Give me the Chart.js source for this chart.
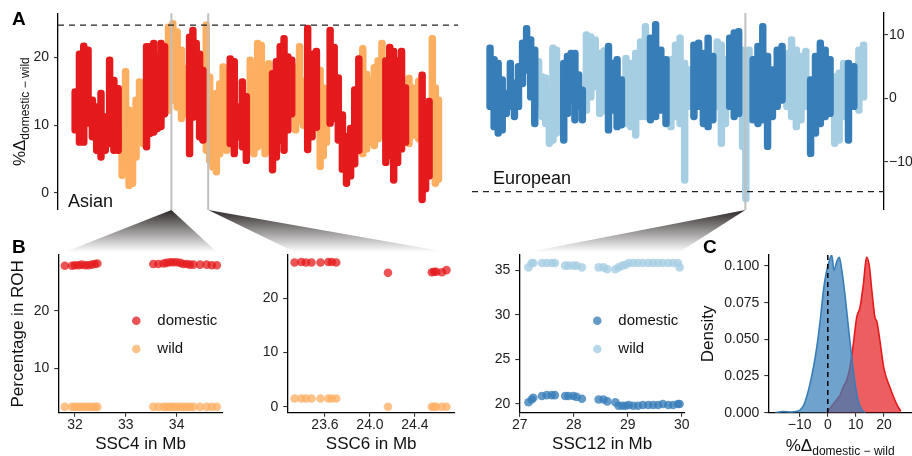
<!DOCTYPE html>
<html>
<head>
<meta charset="utf-8">
<script src="https://cdn.jsdelivr.net/npm/chart.js@4.4.1/dist/chart.umd.min.js"></script>
<style>
  html, body { margin: 0; padding: 0; background: #fff; }
  #wrap { position: relative; width: 912px; height: 456px; overflow: hidden; background: #fff; }
  #wrap canvas { position: absolute; left: 0; top: 0; }
</style>
</head>
<body>
<div id="wrap">
  <canvas id="bg" width="912" height="456"></canvas>
  <canvas id="asian" width="912" height="456"></canvas>
  <canvas id="european" width="912" height="456"></canvas>
  <canvas id="ssc4" width="912" height="456"></canvas>
  <canvas id="ssc6" width="912" height="456"></canvas>
  <canvas id="ssc12" width="912" height="456"></canvas>
  <canvas id="density" width="912" height="456"></canvas>
</div>
<script>
// chromosome lengths in Mb, SSC1..SSC18
const chromLengths = [315, 162, 144, 143, 111, 157, 134, 148, 153, 79, 87, 63, 218, 153, 157, 86, 69, 61];

// panel A: %Δ domestic - wild, [low, high] spread of the windows in each bin, per chromosome
const asianRanges = [
  [[8.8,15.4],[7,21],[7,22.2],[9.8,21.6],[7.8,14.2],[5.8,13.2],[4.8,15.2],[5.8,11.7],[6.8,20.1],[5.8,17.1],[5.8,15.9]],
  [[2.1,9.8],[3.8,18.4],[0.6,12.7],[0.9,12.2],[4.8,14.2],[7.3,16.9],[6.8,16.2]],
  [[6.3,22.1],[8.3,22.1],[8.5,22.6],[9.0,20.6],[9.3,22.6],[11.2,22.1]],
  [[11.7,25],[13.2,25.5],[12.2,24.3],[10.5,21.6],[11.2,18.9]],
  [[5.3,23.5],[10.7,24.5],[12.2,22.6],[7.8,21],[7.3,18.6]],
  [[5.8,25.3],[4.3,17.6],[3.3,13.7],[2.6,15.2],[5.3,16.6],[6.3,19.1],[5.8,18.1]],
  [[6.8,20.3],[5.3,19.9],[7.8,13.2],[6.3,16.9],[4.3,14.7]],
  [[5.8,20.1],[5.3,18.1],[6.3,22.6],[6.8,22.3],[5.3,17.9],[5.8,19.6]],
  [[2.9,18.1],[4.8,19.9],[7.3,22.1],[5.8,23.3],[8.8,20.6],[11.2,20.1]],
  [[8.8,19.1],[10.2,22.1],[9.5,17]],
  [[5.9,24.8],[7.8,21],[9.2,21.4]],
  [[3.4,18.6],[5,16],[7,14.5]],
  [[9.8,24.5],[10.5,22],[7.3,17.5],[3,12],[0.9,8.8],[2,10],[3.8,15.7],[5.8,20.3]],
  [[5.3,21.8],[6,18],[7,17],[6.5,19],[7.5,20],[8,22.6]],
  [[4,20],[5,22],[1.4,21.4],[4,20],[6,21.4],[7,16]],
  [[6.8,17.4],[8,16],[9,15.5],[7.5,17]],
  [[-1.5,17.9],[0.1,13],[2,14]],
  [[3,23.3],[0.9,16],[1.5,14.2]]
];
const europeanRanges = [
  [[-1.8,8.4],[-5,6.6],[-6,6.0],[-5.5,3.4],[-2.9,1.3],[-1.8,6.0],[-3.4,2.9],[-1.8,5.5],[1.8,9.2],[3.9,11.5],[-0.3,9.7],[-4.5,8.1]],
  [[-1.8,6.3],[-3.4,3.9],[-4.5,3.7],[-7.6,1.8],[-7.1,8.4],[-6.0,8.1],[-3.9,3.4]],
  [[-7.1,6.0],[-2.9,7.1],[-0.8,7.6],[-3.9,7.6],[-1.8,4.2],[-3.9,1.8]],
  [[-2.4,10.5],[-0.3,10.2],[1.3,9.7],[-2.9,7.6],[-2.5,8]],
  [[-5.5,8.7],[-2.4,6.0],[-5,6.6],[-4.7,3.4]],
  [[-4.5,6.8],[-5,6.0],[-6.3,7.6],[-3.4,9.4],[-3.4,11.8]],
  [[-3.9,10],[-3.4,12.1],[-2.4,8.1],[-4.5,6.6]],
  [[-5,6.6],[-3.4,8.9],[-4.5,10],[-13.4,6.0],[-1.8,5.0]],
  [[-3.4,8.9],[-1.8,9.2],[-4.5,7.6],[-5,10],[-3.9,7.1]],
  [[-1.8,9.4],[-7.6,8.9],[-4.5,6.6]],
  [[-1.8,10],[-3.4,10.8],[-2.9,11]],
  [[-8.1,8.1],[-16.3,7.6],[-3.9,8.1]],
  [[-3.9,6.6],[-4.5,8.7],[-3.9,11.8],[-8.1,7.1],[-3.4,5.0],[-1.8,8.1],[-0.8,8.7]],
  [[-1.8,7.6],[-3.4,9.7],[-5,8.1],[-3.9,7.1],[-1.8,7.9]],
  [[-9.2,3.4],[-6,7.1],[-4.5,9.2],[-3.4,8.1],[-2.9,6.6]],
  [[-7.6,3.9],[-7.1,4.5],[-3.4,6.0]],
  [[-7.1,6.0],[-1.8,5.5]],
  [[-2.4,8.1],[-0.3,8.9]]
];
const asianThreshold = 24.8;
const europeanThreshold = -14.7;
const asianHighlightChr = [4, 6];
const asianHighlightMb = [33.3, 24.0];
const europeanHighlightChr = [12];
const europeanHighlightMb = [28.5];
const asianTicks = [0, 10, 20];
const europeanTicks = [-10, 0, 10];

// panel B: percentage of individuals in ROH
const ssc4Mb = [31.80,31.94,32.00,32.07,32.13,32.20,32.26,32.33,32.39,32.44,33.54,33.64,33.74,33.80,33.87,33.93,34.00,34.07,34.13,34.20,34.26,34.33,34.46,34.59,34.69,34.79];
const ssc4Domestic = [27.8,27.8,27.9,27.9,28.0,27.9,27.9,28.0,28.1,28.2,28.1,28.1,28.2,28.3,28.4,28.4,28.4,28.3,28.1,28.1,28.0,28.0,28.0,28.0,27.9,27.9];
const ssc4Wild = [3.3,3.3,3.3,3.3,3.3,3.3,3.3,3.3,3.3,3.3,3.3,3.3,3.3,3.3,3.3,3.3,3.3,3.3,3.3,3.3,3.3,3.3,3.3,3.3,3.3,3.3];
const ssc4XTicks = [32, 33, 34];
const ssc4YTicks = [10, 20];

const ssc6Mb = [23.33,23.39,23.43,23.48,23.56,23.63,23.66,23.70,24.16,24.55,24.57,24.59,24.64,24.68];
const ssc6Domestic = [26.6,26.7,26.6,26.6,26.6,26.7,26.7,26.6,24.7,24.8,24.9,24.9,24.8,25.2];
const ssc6Wild = [1.5,1.5,1.5,1.5,1.5,1.5,1.5,1.5,0,0,0,0,0,0];
const ssc6XTicks = [23.6, 24.0, 24.4];
const ssc6YTicks = [0, 10, 20];

const ssc12Mb = [27.16,27.22,27.25,27.41,27.50,27.59,27.65,27.84,27.90,27.99,28.05,28.15,28.46,28.55,28.62,28.77,28.83,28.90,28.96,29.02,29.10,29.19,29.28,29.38,29.47,29.56,29.65,29.75,29.84,29.93,29.96];
const ssc12Domestic = [20.2,20.5,20.7,20.9,21.0,21.0,21.0,20.9,20.9,20.9,20.8,20.6,20.5,20.5,20.3,20.2,19.8,19.8,19.8,19.9,19.8,19.8,19.9,19.9,19.9,19.9,20.0,19.9,19.9,20.0,20.0];
const ssc12Wild = [35.3,35.8,35.8,35.8,35.8,35.8,35.8,35.5,35.5,35.5,35.5,35.3,35.3,35.3,35.1,35.1,35.3,35.5,35.6,35.8,35.8,35.8,35.8,35.8,35.8,35.8,35.8,35.8,35.8,35.8,35.3];
const ssc12XTicks = [27, 28, 29, 30];
const ssc12YTicks = [20, 25, 30, 35];

// panel C: density of %Δ domestic - wild
const europeanDensX = [-18.7,-16,-13,-11,-9.8,-8.6,-7.5,-6.3,-5.1,-3.9,-2.7,-1.5,-0.6,0.6,1.4,2.2,3.2,4.1,5.0,6.2,7.3,8.5,9.7,10.9,12.1,13.3];
const europeanDensY = [0,0.0008,0.0005,0.001,0.002,0.005,0.011,0.02,0.031,0.045,0.063,0.084,0.095,0.104,0.1075,0.097,0.103,0.106,0.097,0.079,0.059,0.038,0.02,0.0075,0.002,0];
const asianDensX = [-0.4,0.8,2.0,3.2,4.4,5.6,6.7,7.9,9.1,10.3,11.5,12.7,13.8,14.8,15.6,16.8,17.5,18.5,20.0,22.4,24.5,26.0];
const asianDensY = [0,0.003,0.006,0.009,0.012,0.018,0.022,0.031,0.047,0.065,0.072,0.088,0.106,0.1,0.085,0.065,0.062,0.05,0.03,0.016,0.006,0.001];
const densXTicks = [-10, 0, 10, 20];
const densYTicks = [0, 0.025, 0.05, 0.075, 0.1];

const RED = '#e41a1c', ORANGE = '#fdae61', BLUE = '#377eb8', LIGHTBLUE = '#a6cee3';
const FONT = "'Liberation Sans', Arial, Helvetica, sans-serif";
Chart.defaults.font.family = FONT;
Chart.defaults.color = '#1a1a1a';

function chromStart(chr) {
  let s = 0;
  for (let i = 0; i < chr - 1; i++) s += chromLengths[i];
  return s;
}

// bins of every other chromosome (parity 0 = SSC1, SSC3, ...)
function genomePoints(ranges, parity) {
  const pts = [];
  ranges.forEach((bins, ci) => {
    if (ci % 2 !== parity) return;
    const start = chromStart(ci + 1), len = chromLengths[ci];
    bins.forEach((r, i) => pts.push({ x: start + (i + 0.5) * len / bins.length, y: r }));
  });
  return pts;
}

const zip = (xs, ys) => xs.map((x, i) => ({ x: x, y: ys[i] }));
const minusFmt = v => (v < 0 ? '\u2212' + Math.abs(v) : String(v));

// dashed thresholds and highlight lines drawn over the points
const refLines = {
  id: 'refLines',
  afterDatasetsDraw(chart, args, opts) {
    const { ctx, chartArea: a, scales } = chart;
    ctx.save();
    (opts.v || []).forEach(l => {
      const x = scales.x.getPixelForValue(l.value);
      ctx.strokeStyle = l.color; ctx.lineWidth = l.width; ctx.setLineDash(l.dash || []);
      ctx.beginPath(); ctx.moveTo(x, a.top); ctx.lineTo(x, a.bottom); ctx.stroke();
    });
    (opts.h || []).forEach(l => {
      const y = scales.y.getPixelForValue(l.value);
      ctx.strokeStyle = l.color; ctx.lineWidth = l.width; ctx.setLineDash(l.dash || []);
      ctx.beginPath(); ctx.moveTo(a.left, y); ctx.lineTo(a.right, y); ctx.stroke();
    });
    ctx.restore();
  }
};

// legend placed inside the panel
const innerLegend = {
  id: 'innerLegend',
  afterDraw(chart, args, opts) {
    if (!opts.items) return;
    const { ctx, chartArea: a } = chart;
    ctx.save();
    opts.items.forEach((it, i) => {
      const cx = a.left + opts.dx, cy = a.top + opts.dy + i * opts.gap;
      ctx.fillStyle = it.color;
      ctx.beginPath(); ctx.arc(cx, cy, 4.3, 0, Math.PI * 2); ctx.fill();
      ctx.fillStyle = '#111'; ctx.font = '15px ' + FONT; ctx.textBaseline = 'middle';
      ctx.fillText(it.label, cx + 21, cy);
    });
    ctx.restore();
  }
};

function yAxis(min, max, ticks, width, fmt, position, title, pad) {
  return {
    type: 'linear', position: position || 'left', min: min, max: max,
    afterFit: s => { s.width = width; },
    afterBuildTicks: s => { s.ticks = ticks.map(v => ({ value: v })); },
    ticks: { font: { size: 14 }, color: '#222', padding: pad === undefined ? 5 : pad, autoSkip: false, callback: fmt || minusFmt },
    grid: { drawOnChartArea: false, tickLength: 4, color: '#333', lineWidth: 1.1 },
    border: { display: true, color: '#000', width: 1.3 },
    title: title ? { display: true, text: title, font: { size: 17 }, color: '#111', padding: 0 } : { display: false }
  };
}

function xAxis(min, max, ticks, fmt, title) {
  return {
    type: 'linear', position: 'bottom', min: min, max: max,
    afterFit: s => { s.height = 42; },
    afterBuildTicks: s => { s.ticks = ticks.map(v => ({ value: v })); },
    ticks: { font: { size: 14 }, color: '#222', padding: 0, maxRotation: 0, autoSkip: false, callback: fmt || minusFmt },
    grid: { drawOnChartArea: false, tickLength: 4, color: '#333', lineWidth: 1.1 },
    border: { display: true, color: '#000', width: 1.3 },
    title: title ? { display: true, text: title, font: { size: 17 }, color: '#111', padding: 0 } : { display: false }
  };
}

const baseOpts = {
  responsive: false, animation: false, devicePixelRatio: 1,
  events: []
};

function manhattan(id, ranges, colors, pad, xMin, xMax, yMin, yMax, ticks, yPos, yWidth, tickPad, hLine, highlights) {
  return new Chart(document.getElementById(id), {
    type: 'bar',
    data: {
      datasets: [0, 1].map(p => ({
        data: genomePoints(ranges, p),
        backgroundColor: colors[p],
        barThickness: 6.8, borderRadius: 3.4, borderSkipped: false, grouped: false
      }))
    },
    options: Object.assign({}, baseOpts, {
      layout: { padding: pad },
      plugins: {
        legend: { display: false }, tooltip: { enabled: false },
        refLines: {
          h: [{ value: hLine, color: '#222', width: 1.4, dash: [6, 5] }],
          v: highlights.map(v => ({ value: v, color: '#bfbfbf', width: 2 }))
        }
      },
      scales: {
        x: { type: 'linear', display: false, offset: false, min: xMin, max: xMax },
        y: yAxis(yMin, yMax, ticks, yWidth, minusFmt, yPos, null, tickPad)
      }
    }),
    plugins: [refLines]
  });
}

const asianChart = manhattan('asian', asianRanges, [RED, ORANGE],
  { left: 18, top: 13, right: 454, bottom: 246 }, -99.7, 2560, -2.55, 26.54, asianTicks, 'left', 40, 5,
  asianThreshold, asianHighlightChr.map((c, i) => chromStart(c) + asianHighlightMb[i]));

const europeanChart = manhattan('european', europeanRanges, [BLUE, LIGHTBLUE],
  { left: 472, top: 13, right: 0, bottom: 246 }, -103.3, 2556.5, -17.59, 13.43, europeanTicks, 'right', 28, 1,
  europeanThreshold, europeanHighlightChr.map((c, i) => chromStart(c) + europeanHighlightMb[i]));

function rohChart(id, xs, dom, wild, colors, pad, yWidth, xr, yr, xt, yt, xfmt, xTitle, yTitle, legendItems) {
  const opts = Object.assign({}, baseOpts, {
    layout: { padding: pad },
    plugins: { legend: { display: false }, tooltip: { enabled: false } },
    scales: {
      x: xAxis(xr[0], xr[1], xt, xfmt, xTitle),
      y: yAxis(yr[0], yr[1], yt, yWidth, minusFmt, 'left', yTitle)
    }
  });
  if (legendItems) opts.plugins.innerLegend = { items: legendItems, dx: 78, dy: 65.7, gap: 28.3 };
  return new Chart(document.getElementById(id), {
    type: 'scatter',
    data: {
      datasets: [
        { data: zip(xs, dom), backgroundColor: colors[0], pointRadius: 4.3, borderWidth: 0 },
        { data: zip(xs, wild), backgroundColor: colors[1], pointRadius: 4.3, borderWidth: 0 }
      ]
    },
    options: opts,
    plugins: [innerLegend]
  });
}

const redA = 'rgba(228,26,28,0.75)', orangeA = 'rgba(253,174,97,0.75)';
const blueA = 'rgba(55,126,184,0.78)', lightA = 'rgba(166,206,227,0.8)';

const ssc4Chart = rohChart('ssc4', ssc4Mb, ssc4Domestic, ssc4Wild, [redA, orangeA],
  { left: 8.3, top: 255, right: 689.3, bottom: 1.3 }, 50, [31.671, 34.906], [2.29, 29.67],
  ssc4XTicks, ssc4YTicks, v => String(v), 'SSC4 in Mb', 'Percentage in ROH',
  [{ label: 'domestic', color: redA }, { label: 'wild', color: orangeA }]);

const ssc6Chart = rohChart('ssc6', ssc6Mb, ssc6Domestic, ssc6Wild, [redA, orangeA],
  { left: 247.3, top: 255, right: 457, bottom: 1.3 }, 40, [23.265, 24.756], [-1.11, 27.99],
  ssc6XTicks, ssc6YTicks, v => v.toFixed(1), 'SSC6 in Mb', null, null);

const ssc12Chart = rohChart('ssc12', ssc12Mb, ssc12Domestic, ssc12Wild, [blueA, lightA],
  { left: 479.3, top: 255, right: 227, bottom: 1.3 }, 40, [26.99, 30.06], [19.03, 36.69],
  ssc12XTicks, ssc12YTicks, v => String(v), 'SSC12 in Mb', null,
  [{ label: 'domestic', color: blueA }, { label: 'wild', color: lightA }]);

const densityChart = new Chart(document.getElementById('density'), {
  type: 'line',
  data: {
    datasets: [
      { data: zip(europeanDensX, europeanDensY), borderColor: BLUE, backgroundColor: 'rgba(55,126,184,0.72)',
        fill: 'origin', borderWidth: 1.6, pointRadius: 0, cubicInterpolationMode: 'monotone' },
      { data: zip(asianDensX, asianDensY), borderColor: RED, backgroundColor: 'rgba(228,26,28,0.7)',
        fill: 'origin', borderWidth: 1.6, pointRadius: 0, cubicInterpolationMode: 'monotone' }
    ]
  },
  options: Object.assign({}, baseOpts, {
    layout: { padding: { left: 698.3, top: 255, right: 0, bottom: 1.3 } },
    plugins: {
      legend: { display: false }, tooltip: { enabled: false },
      refLines: { v: [{ value: 0, color: '#000', width: 1.5, dash: [5, 4] }] }
    },
    scales: {
      x: xAxis(-21.2, 30, densXTicks, minusFmt, null),
      y: yAxis(0, 0.1075, densYTicks, 70, v => v.toFixed(3), 'left', 'Density')
    }
  }),
  plugins: [refLines]
});

// background layer: panel letters, labels, zoom connectors
const bg = document.getElementById('bg').getContext('2d');

function connector(fromChart, xVal, toChart, xLo, xHi) {
  const ax = fromChart.scales.x.getPixelForValue(xVal), ay = fromChart.chartArea.bottom;
  const by = toChart.chartArea.top - 3;
  const bl = toChart.scales.x.getPixelForValue(xLo), br = toChart.scales.x.getPixelForValue(xHi);
  const g = bg.createLinearGradient(0, ay, 0, by);
  g.addColorStop(0, '#2e2828');
  g.addColorStop(1, '#ffffff');
  bg.fillStyle = g;
  bg.beginPath(); bg.moveTo(ax, ay); bg.lineTo(br, by); bg.lineTo(bl, by); bg.closePath(); bg.fill();
}

connector(asianChart, chromStart(asianHighlightChr[0]) + asianHighlightMb[0], ssc4Chart, ssc4Mb[0], ssc4Mb[ssc4Mb.length - 1]);
connector(asianChart, chromStart(asianHighlightChr[1]) + asianHighlightMb[1], ssc6Chart, ssc6Mb[0], ssc6Mb[ssc6Mb.length - 1]);
connector(europeanChart, chromStart(europeanHighlightChr[0]) + europeanHighlightMb[0], ssc12Chart, ssc12Mb[0], ssc12Mb[ssc12Mb.length - 1]);

function deltaTitle(x, y, rot) {
  bg.save();
  bg.translate(x, y); bg.rotate(rot);
  bg.fillStyle = '#111'; bg.textBaseline = 'alphabetic';
  bg.font = '17px ' + FONT; const w1 = bg.measureText('%\u0394').width;
  bg.font = '12px ' + FONT; const w2 = bg.measureText('domestic \u2212 wild').width;
  const x0 = -(w1 + w2) / 2;
  bg.font = '17px ' + FONT; bg.fillText('%\u0394', x0, 6);
  bg.font = '12px ' + FONT; bg.fillText('domestic \u2212 wild', x0 + w1, 10);
  bg.restore();
}

deltaTitle(19, (asianChart.chartArea.top + asianChart.chartArea.bottom) / 2, -Math.PI / 2);
deltaTitle((densityChart.chartArea.left + densityChart.chartArea.right) / 2, 445, 0);

bg.fillStyle = '#000';
bg.textBaseline = 'alphabetic';
bg.font = 'bold 19px ' + FONT;
bg.fillText('A', 12, 25);
bg.fillText('B', 12, 253);
bg.fillText('C', 703, 253);
bg.fillStyle = '#111';
bg.font = '18px ' + FONT;
bg.fillText('Asian', 68, 207);
bg.fillText('European', 493, 184);
</script>
</body>
</html>
